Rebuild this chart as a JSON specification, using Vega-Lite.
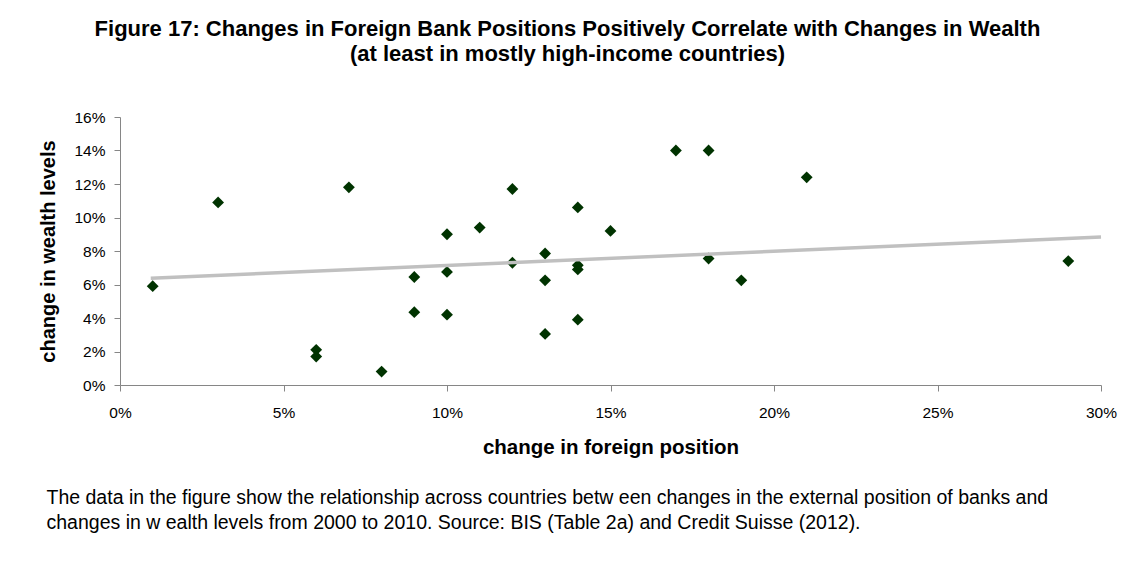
{
  "$schema": "https://vega.github.io/schema/vega-lite/v6.json",
  "autosize": {"type": "none"},
  "width": 981,
  "height": 268,
  "padding": {"left": 120, "top": 117, "right": 32, "bottom": 176},
  "background": "white",
  "config": {
    "view": {"stroke": null},
    "font": "Liberation Sans"
  },
  "title": {
    "text": ["Figure 17: Changes in Foreign Bank Positions Positively Correlate with Changes in Wealth", "(at least in mostly high-income countries)"],
    "anchor": "middle",
    "dx": -43,
    "offset": 44,
    "fontSize": 22,
    "fontWeight": "bold",
    "lineHeight": 25,
    "color": "black",
    "font": "Liberation Sans"
  },
  "datasets": {
    "pts": [
      {"x": 0.01, "y": 0.059},
      {"x": 0.03, "y": 0.109},
      {"x": 0.07, "y": 0.118},
      {"x": 0.06, "y": 0.021},
      {"x": 0.06, "y": 0.017},
      {"x": 0.08, "y": 0.008},
      {"x": 0.09, "y": 0.0645},
      {"x": 0.09, "y": 0.0435},
      {"x": 0.10, "y": 0.090},
      {"x": 0.10, "y": 0.0675},
      {"x": 0.10, "y": 0.042},
      {"x": 0.11, "y": 0.094},
      {"x": 0.12, "y": 0.117},
      {"x": 0.12, "y": 0.073},
      {"x": 0.13, "y": 0.0785},
      {"x": 0.13, "y": 0.0625},
      {"x": 0.13, "y": 0.0305},
      {"x": 0.14, "y": 0.106},
      {"x": 0.14, "y": 0.0715},
      {"x": 0.14, "y": 0.069},
      {"x": 0.14, "y": 0.039},
      {"x": 0.15, "y": 0.092},
      {"x": 0.17, "y": 0.140},
      {"x": 0.18, "y": 0.140},
      {"x": 0.18, "y": 0.0755},
      {"x": 0.19, "y": 0.0625},
      {"x": 0.21, "y": 0.124},
      {"x": 0.29, "y": 0.074}
    ],
    "trend": [
      {"x": 0.0094, "y": 0.0637},
      {"x": 0.30, "y": 0.0883}
    ]
  },
  "layer": [
    {
      "data": {"name": "pts"},
      "mark": {"type": "point", "shape": "diamond", "filled": true, "color": "#003300", "opacity": 1, "size": 140},
      "encoding": {
        "x": {
          "field": "x", "type": "quantitative",
          "scale": {"domain": [0, 0.3], "nice": false, "zero": false},
          "axis": {
            "orient": "bottom",
            "format": "%",
            "values": [0, 0.05, 0.1, 0.15, 0.2, 0.25, 0.3],
            "grid": false,
            "domainColor": "#868686",
            "tickColor": "#868686",
            "tickSize": 6,
            "labelFontSize": 15.5,
            "labelColor": "black",
            "labelPadding": 14,
            "labelFont": "Liberation Sans",
            "labelOverlap": false,
            "labelFlush": false,
            "labelBound": false,
            "title": "change in foreign position",
            "titleFontSize": 20.5,
            "titleFontWeight": "bold",
            "titleColor": "black",
            "titleFont": "Liberation Sans",
            "titlePadding": 17
          }
        },
        "y": {
          "field": "y", "type": "quantitative",
          "scale": {"domain": [0, 0.16], "nice": false},
          "axis": {
            "format": "%",
            "values": [0, 0.02, 0.04, 0.06, 0.08, 0.1, 0.12, 0.14, 0.16],
            "grid": false,
            "domainColor": "#868686",
            "tickColor": "#868686",
            "tickSize": 6,
            "labelFontSize": 15.5,
            "labelColor": "black",
            "labelPadding": 9,
            "labelFont": "Liberation Sans",
            "labelOverlap": false,
            "labelFlush": false,
            "labelBound": false,
            "title": "change in wealth levels",
            "titleFontSize": 20,
            "titleFontWeight": "bold",
            "titleColor": "black",
            "titleFont": "Liberation Sans",
            "titlePadding": 15
          }
        }
      }
    },
    {
      "data": {"name": "trend"},
      "mark": {"type": "line", "color": "#c0c0c0", "strokeWidth": 3.5},
      "encoding": {
        "x": {
          "field": "x", "type": "quantitative",
          "scale": {"domain": [0, 0.3], "nice": false, "zero": false},
          "axis": {
            "orient": "bottom",
            "labels": false, "ticks": false, "domain": false, "grid": false,
            "title": ["The data in the figure show  the relationship across countries betw een changes in the external position of banks and", "changes in w ealth levels from 2000 to 2010. Source: BIS (Table 2a) and Credit Suisse (2012)."],
            "titleFont": "Liberation Sans",
            "titleFontSize": 19.5,
            "titleFontWeight": "normal",
            "titleColor": "black",
            "titleAnchor": "start",
            "titleAlign": "left",
            "titleBaseline": "middle",
            "titleLineHeight": 25,
            "titleX": -74,
            "titleY": 112
          }
        },
        "y": {
          "field": "y", "type": "quantitative",
          "scale": {"domain": [0, 0.16], "nice": false},
          "axis": {
            "format": "%",
            "values": [0, 0.02, 0.04, 0.06, 0.08, 0.1, 0.12, 0.14, 0.16],
            "grid": false,
            "domainColor": "#868686",
            "tickColor": "#868686",
            "tickSize": 6,
            "labelFontSize": 15.5,
            "labelColor": "black",
            "labelPadding": 9,
            "labelFont": "Liberation Sans",
            "labelOverlap": false,
            "labelFlush": false,
            "labelBound": false,
            "title": "change in wealth levels",
            "titleFontSize": 20,
            "titleFontWeight": "bold",
            "titleColor": "black",
            "titleFont": "Liberation Sans",
            "titlePadding": 15
          }
        }
      }
    }
  ],
  "resolve": {"scale": {"x": "independent"}, "axis": {"x": "independent"}}
}
